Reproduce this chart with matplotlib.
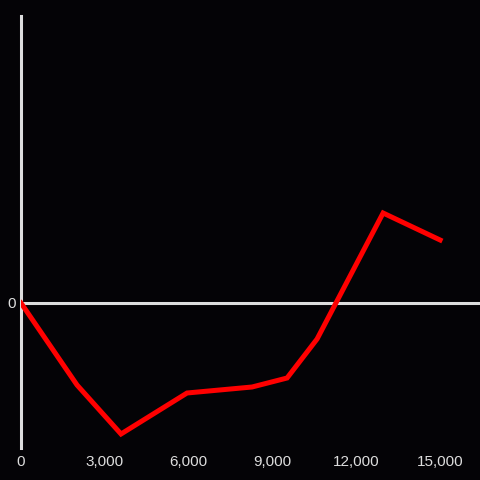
import matplotlib.pyplot as plt
from matplotlib.ticker import FuncFormatter

plt.rcParams['font.family'] = ['Liberation Sans', 'DejaVu Sans']

# datos
x_vals = [0, 2005, 3580, 5943, 8271, 9524, 10598, 12961, 15002]
y_vals = [0, -82, -131, -90, -84, -75, -36, 90, 63]
x_ticks = [0, 3000, 6000, 9000, 12000, 15000]
y_ticks = [0]

fondo = '#040306'
gris = '#dddddd'

fig = plt.figure(figsize=(4.8, 4.8), dpi=100, facecolor=fondo)
ax = fig.add_axes([21 / 480, 32 / 480, 459 / 480, 432 / 480], facecolor=fondo)

ax.axhline(0, color=gris, lw=2.2, zorder=1)
ax.plot(x_vals, y_vals, color='#ff0000', lw=3.6, solid_joinstyle='miter', zorder=3)

ax.set_xlim(0, 16430)
ax.set_ylim(-145, 287)
ax.set_xticks(x_ticks)
ax.set_yticks(y_ticks)
ax.xaxis.set_major_formatter(FuncFormatter(lambda v, p: f'{int(v):,}'))
ax.tick_params(length=0, colors=gris, labelsize=11)
ax.tick_params(axis='x', pad=5)
ax.tick_params(axis='y', pad=4)

for s in ['top', 'right', 'bottom']:
    ax.spines[s].set_visible(False)
ax.spines['left'].set_color(gris)
ax.spines['left'].set_linewidth(2.2)

fig.savefig('out.png', dpi=100, facecolor=fondo)
